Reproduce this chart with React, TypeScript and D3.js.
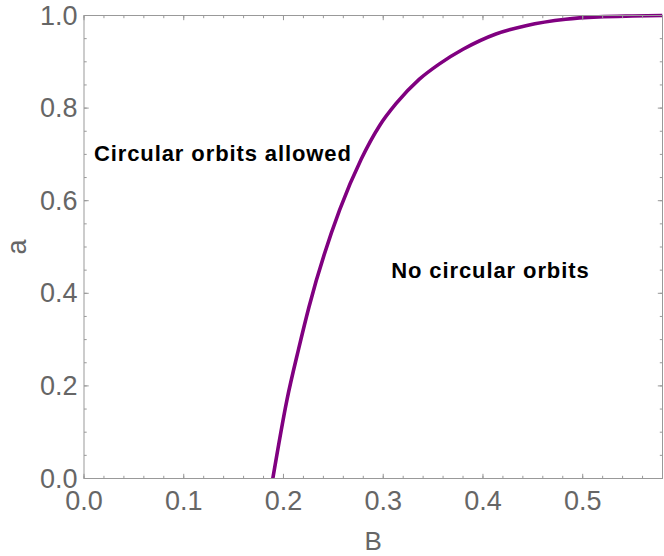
import React, { useEffect, useRef } from "react";
import * as d3 from "d3";

// boundary curve: B (x) vs a (y)
const curveB = [0.1893, 0.2035, 0.2152, 0.2255, 0.2563, 0.278, 0.2963, 0.313, 0.336, 0.356, 0.38, 0.413, 0.443, 0.483, 0.516, 0.55, 0.58];
const curveA = [0, 0.17, 0.28, 0.37, 0.58, 0.69, 0.762, 0.81, 0.862, 0.895, 0.927, 0.96, 0.978, 0.992, 0.997, 0.999, 1.0];

const xTicks = [0, 0.1, 0.2, 0.3, 0.4, 0.5];
const yTicks = [0, 0.2, 0.4, 0.6, 0.8, 1.0];
const xMinor = d3.range(0, 0.58, 0.02);
const yMinor = d3.range(0, 1.0001, 0.05);

const notes = [
	{ text: "Circular orbits allowed", B: 0.01, a: 0.685 },
	{ text: "No circular orbits", B: 0.308, a: 0.434 }
];

const W = 664;
const H = 556;
const M = { left: 84, right: 1.5, top: 15.5, bottom: 77.5 };

const App = () => {
	const ref = useRef<SVGSVGElement>(null);

	useEffect(() => {
		const svg = d3.select(ref.current);
		svg.selectAll("*").remove();

		const x = d3.scaleLinear().domain([0, 0.58]).range([M.left, W - M.right]);
		const y = d3.scaleLinear().domain([0, 1]).range([H - M.bottom, M.top]);

		const axisColor = "#999999";
		const labelColor = "#666666";
		const font = "'Liberation Sans', Arial, sans-serif";

		// curve first, frame drawn on top
		const pts = curveB.map((b, i) => [b, curveA[i]] as [number, number]);
		const line = d3
			.line<[number, number]>()
			.x((d) => x(d[0]))
			.y((d) => y(d[1]))
			.curve(d3.curveMonotoneX);

		svg
			.append("defs")
			.append("clipPath")
			.attr("id", "plot-clip")
			.append("rect")
			.attr("x", M.left)
			.attr("y", M.top - 3)
			.attr("width", W - M.left - M.right)
			.attr("height", H - M.top - M.bottom + 3);

		svg
			.append("path")
			.datum(pts)
			.attr("d", line)
			.attr("fill", "none")
			.attr("stroke", "#800080")
			.attr("stroke-width", 3.6)
			.attr("clip-path", "url(#plot-clip)");

		// frame
		svg
			.append("rect")
			.attr("x", x(0))
			.attr("y", y(1))
			.attr("width", x(0.58) - x(0))
			.attr("height", y(0) - y(1))
			.attr("fill", "none")
			.attr("stroke", axisColor)
			.attr("stroke-width", 1);

		const g = svg.append("g").attr("stroke", axisColor).attr("stroke-width", 1);

		// x ticks, bottom and top, pointing inward
		const xt = (v: number, len: number) => {
			g.append("line").attr("x1", x(v)).attr("x2", x(v)).attr("y1", y(0)).attr("y2", y(0) - len);
			g.append("line").attr("x1", x(v)).attr("x2", x(v)).attr("y1", y(1)).attr("y2", y(1) + len);
		};
		xMinor.forEach((v) => xt(v, 2.7));
		xTicks.forEach((v) => xt(v, 4.7));

		const yt = (v: number, len: number) => {
			g.append("line").attr("x1", x(0)).attr("x2", x(0) + len).attr("y1", y(v)).attr("y2", y(v));
			g.append("line").attr("x1", x(0.58)).attr("x2", x(0.58) - len).attr("y1", y(v)).attr("y2", y(v));
		};
		yMinor.forEach((v) => yt(v, 2.7));
		yTicks.forEach((v) => yt(v, 4.7));

		// tick labels
		svg
			.append("g")
			.selectAll("text")
			.data(xTicks)
			.enter()
			.append("text")
			.attr("x", (d) => x(d))
			.attr("y", y(0) + 31)
			.attr("text-anchor", "middle")
			.attr("font-family", font)
			.attr("font-size", 27)
			.attr("fill", labelColor)
			.text((d) => d3.format(".1f")(d));

		svg
			.append("g")
			.selectAll("text")
			.data(yTicks)
			.enter()
			.append("text")
			.attr("x", x(0) - 6.5)
			.attr("y", (d) => y(d) + 9)
			.attr("text-anchor", "end")
			.attr("font-family", font)
			.attr("font-size", 27)
			.attr("fill", labelColor)
			.text((d) => d3.format(".1f")(d));

		// axis titles
		svg
			.append("text")
			.attr("x", (x(0) + x(0.58)) / 2)
			.attr("y", 550)
			.attr("text-anchor", "middle")
			.attr("font-family", font)
			.attr("font-size", 26)
			.attr("fill", labelColor)
			.text("B");

		svg
			.append("text")
			.attr("transform", `translate(26, ${(y(0) + y(1)) / 2}) rotate(-90)`)
			.attr("text-anchor", "middle")
			.attr("font-family", font)
			.attr("font-size", 27)
			.attr("fill", labelColor)
			.text("a");

		// region notes
		svg
			.append("g")
			.selectAll("text")
			.data(notes)
			.enter()
			.append("text")
			.attr("x", (d) => x(d.B))
			.attr("y", (d) => y(d.a))
			.attr("font-family", font)
			.attr("font-size", 22)
			.attr("font-weight", "bold")
			.attr("letter-spacing", 0.9)
			.attr("fill", "#000000")
			.text((d) => d.text);
	}, []);

	return (
		<div style={{ position: "absolute", left: 0, top: 0 }}>
			<svg ref={ref} width={W} height={H} style={{ display: "block", background: "#ffffff" }}></svg>
		</div>
	);
};

export default App;
